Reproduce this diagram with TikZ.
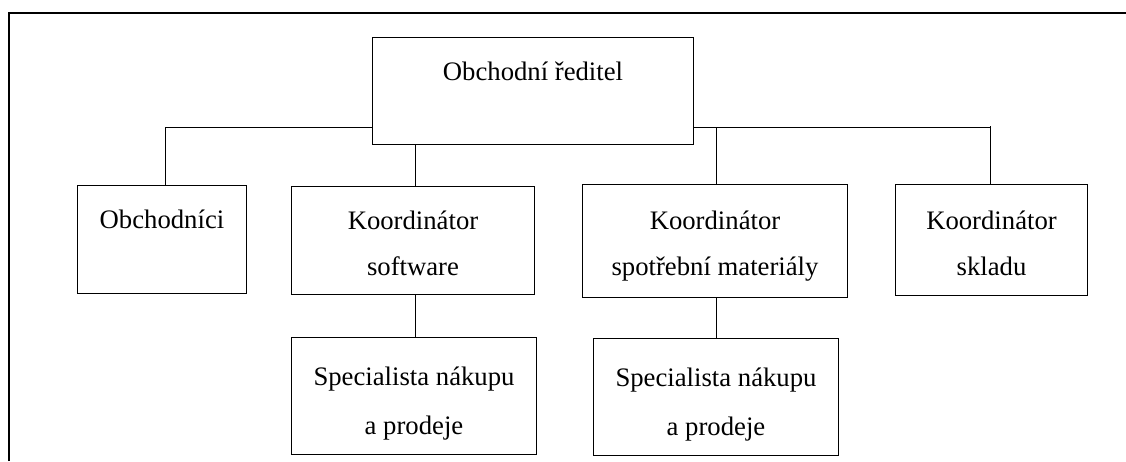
\documentclass[tikz,border=0pt]{standalone}
\usepackage{fontspec}
\setmainfont{Liberation Serif}
\begin{document}
\begin{tikzpicture}[x=1pt,y=-1pt,
  box/.style={draw, line width=1pt, inner sep=0pt, anchor=north west},
  lbl/.style={inner sep=0pt, anchor=base, font=\fontsize{26.7}{32}\selectfont},
  link/.style={draw, line width=1pt},
  frame/.style={draw, line width=2.2pt}]
\useasboundingbox (0,0) rectangle (1126,461);

% outer frame (top and left edges only)
\draw[frame] (9,461) -- (9,13) -- (1126,13);

% boxes
\node[box, minimum width=321pt, minimum height=107pt] (top) at (372,37) {};
\node[box, minimum width=169pt, minimum height=108pt] (b1) at (77,185) {};
\node[box, minimum width=243pt, minimum height=108pt] (b2) at (291,186) {};
\node[box, minimum width=265pt, minimum height=113pt] (b3) at (582,184) {};
\node[box, minimum width=192pt, minimum height=111pt] (b4) at (895,184) {};
\node[box, minimum width=245pt, minimum height=117pt] (b5) at (291,337) {};
\node[box, minimum width=245pt, minimum height=117pt] (b6) at (593,338) {};

% labels
\node[lbl] (t0) at ([yshift=-43pt]top.north) {Obchodní ředitel};
\node[lbl] (t1) at ([yshift=-43pt]b1.north) {Obchodníci};
\node[lbl] (t2a) at ([yshift=-43pt]b2.north) {Koordinátor};
\node[lbl] (t2b) at ([yshift=-89pt]b2.north) {software};
\node[lbl] (t3a) at ([yshift=-45pt]b3.north) {Koordinátor};
\node[lbl] (t3b) at ([yshift=-91pt]b3.north) {spotřební materiály};
\node[lbl] (t4a) at ([yshift=-45pt]b4.north) {Koordinátor};
\node[lbl] (t4b) at ([yshift=-91pt]b4.north) {skladu};
\node[lbl] (t5a) at ([yshift=-48pt]b5.north) {Specialista nákupu};
\node[lbl] (t5b) at ([yshift=-97pt]b5.north) {a prodeje};
\node[lbl] (t6a) at ([yshift=-48pt]b6.north) {Specialista nákupu};
\node[lbl] (t6b) at ([yshift=-97pt]b6.north) {a prodeje};

% connector junctions
\coordinate (busL) at (165,127);
\coordinate (busR) at (990,127);
\coordinate (j2) at (415,0);
\coordinate (j3) at (716,0);

% horizontal bus on both sides of the top box
\draw[link] (busL) -- (busL -| top.west);
\draw[link] (top.east |- busR) -- (busR);

% drops to the second row
\draw[link] (busL) -- (busL |- b1.north);
\draw[link] (top.south -| j2) -- (b2.north -| j2);
\draw[link] (busR -| j3) -- (b3.north -| j3);
\draw[link] ([yshift=1pt]busR) -- (busR |- b4.north);

% drops to the third row
\draw[link] (b2.south -| j2) -- (b5.north -| j2);
\draw[link] (b3.south -| j3) -- (b6.north -| j3);
\end{tikzpicture}
\end{document}
